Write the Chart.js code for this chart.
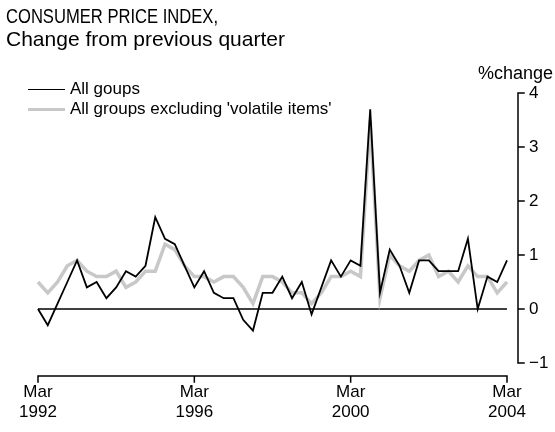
<!DOCTYPE html>
<html>
<head>
<meta charset="utf-8">
<script src="https://cdn.jsdelivr.net/npm/chart.js@4"></script>
<style>
  body { margin: 0; background: #fff; }
  #wrap { position: relative; width: 555px; height: 432px; font-family: 'Liberation Sans', Arial, sans-serif; color: #000; }
  #title { position: absolute; left: 6px; top: 4px; font-size: 21px; line-height: 23px; }
  /* condensed capitals for the first title line */
  #title .caps { display: inline-block; transform: scaleX(0.79); transform-origin: left center; white-space: nowrap; }
  #unit { position: absolute; right: 2px; top: 63px; font-size: 18px; }
  #legend { position: absolute; left: 28px; top: 79px; font-size: 17px; line-height: 20px; }
  #legend span.key { display: inline-block; width: 37px; margin-right: 5px; vertical-align: middle; }
</style>
</head>
<body>
<div id="wrap">
  <canvas id="myChart" width="555" height="432"></canvas>
  <div id="title"><span class="caps">CONSUMER PRICE INDEX,</span><br>Change from previous quarter</div>
  <div id="unit">%change</div>
  <div id="legend"></div>
</div>
<script>
  // quarterly, Mar 1992 - Mar 2004
  const years = [1992, 1993, 1994, 1995, 1996, 1997, 1998, 1999, 2000, 2001, 2002, 2003, 2004];
  const months = ['Mar', 'Jun', 'Sep', 'Dec'];
  const quarters = [];
  years.forEach(y => months.forEach(m => quarters.push(m + ' ' + y)));
  quarters.length = 49;

  const allGroups = [
    0.0, -0.3, 0.1, 0.5, 0.9, 0.4, 0.5, 0.2, 0.4, 0.7, 0.6, 0.8,
    1.7, 1.3, 1.2, 0.8, 0.4, 0.7, 0.3, 0.2, 0.2, -0.2, -0.4, 0.3,
    0.3, 0.6, 0.2, 0.5, -0.1, 0.4, 0.9, 0.6, 0.9, 0.8, 3.7, 0.3,
    1.1, 0.8, 0.3, 0.9, 0.9, 0.7, 0.7, 0.7, 1.3, 0.0, 0.6, 0.5,
    0.9
  ];
  const exVolatile = [
    0.5, 0.3, 0.5, 0.8, 0.9, 0.7, 0.6, 0.6, 0.7, 0.4, 0.5, 0.7,
    0.7, 1.2, 1.1, 0.8, 0.6, 0.6, 0.5, 0.6, 0.6, 0.4, 0.1, 0.6,
    0.6, 0.5, 0.3, 0.3, 0.1, 0.3, 0.6, 0.6, 0.7, 0.6, 3.5, 0.2,
    1.0, 0.8, 0.7, 0.9, 1.0, 0.6, 0.7, 0.5, 0.8, 0.6, 0.6, 0.3,
    0.5
  ];
  const yTicks = [-1, 0, 1, 2, 3, 4];

  const labelFont = { family: "'Liberation Sans', Arial, sans-serif", size: 17 };

  // axis lines drawn by hand: y axis sits off to the right, x axis hangs below the plot
  const axisLines = {
    id: 'axisLines',
    beforeDatasetsDraw(chart) {
      const { ctx, scales: { x, y } } = chart;
      ctx.save();
      ctx.strokeStyle = '#000';
      ctx.lineWidth = 1.5;
      ctx.beginPath();
      ctx.moveTo(x.getPixelForValue(0), y.getPixelForValue(0));
      ctx.lineTo(x.getPixelForValue(quarters.length - 1), y.getPixelForValue(0));
      ctx.stroke();
      ctx.restore();
    },
    afterDraw(chart) {
      const { ctx, chartArea, scales: { x, y } } = chart;
      ctx.save();
      ctx.strokeStyle = '#000';
      ctx.lineWidth = 1.5;
      ctx.lineCap = 'square';

      const ax = chartArea.right + 11;
      ctx.beginPath();
      ctx.moveTo(ax, y.getPixelForValue(4));
      ctx.lineTo(ax, y.getPixelForValue(-1));
      yTicks.forEach(v => {
        const py = y.getPixelForValue(v);
        ctx.moveTo(ax, py);
        ctx.lineTo(ax + 6, py);
      });
      ctx.stroke();

      const ay = y.getPixelForValue(-1) + 13;
      ctx.beginPath();
      ctx.moveTo(x.getPixelForValue(0), ay);
      ctx.lineTo(x.getPixelForValue(quarters.length - 1), ay);
      for (let i = 0; i < quarters.length; i += 16) {
        const px = x.getPixelForValue(i);
        ctx.moveTo(px, ay);
        ctx.lineTo(px, ay + 6);
      }
      ctx.stroke();
      ctx.restore();
    }
  };

  const ctx = document.getElementById('myChart');

  const chart = new Chart(ctx, {
    type: 'line',
    data: {
      labels: quarters,
      datasets: [
        {
          label: 'All goups',
          data: allGroups,
          borderColor: '#000',
          borderWidth: 1.8,
          pointRadius: 0,
          tension: 0,
          clip: false
        },
        {
          label: "All groups excluding 'volatile items'",
          data: exVolatile,
          borderColor: '#c8c8c8',
          borderWidth: 3.5,
          pointRadius: 0,
          tension: 0,
          clip: false
        }
      ]
    },
    options: {
      responsive: false,
      animation: false,
      devicePixelRatio: 1,
      layout: { padding: { left: 38, top: 93, right: 0, bottom: 0 } },
      plugins: {
        legend: { display: false },
        tooltip: { enabled: false }
      },
      scales: {
        x: {
          offset: false,
          grid: { display: false, drawTicks: false },
          border: { display: false },
          ticks: {
            autoSkip: false,
            maxRotation: 0,
            padding: 19,
            color: '#000',
            font: labelFont,
            callback: (v, i) => i % 16 === 0 ? quarters[i].split(' ') : ''
          },
          afterFit: s => { s.height = 69; }
        },
        y: {
          position: 'right',
          min: -1,
          max: 4,
          grid: { display: false, drawTicks: false },
          border: { display: false },
          ticks: {
            stepSize: 1,
            padding: 22,
            color: '#000',
            font: labelFont,
            callback: v => String(v).replace('-', '\u2212')
          },
          afterFit: s => { s.width = 48; }
        }
      }
    },
    plugins: [axisLines]
  });

  // legend built from the datasets
  const legend = document.getElementById('legend');
  chart.data.datasets.forEach(ds => {
    const row = document.createElement('div');
    const key = document.createElement('span');
    key.className = 'key';
    key.style.borderTop = ds.borderWidth + 'px solid ' + ds.borderColor;
    row.appendChild(key);
    row.appendChild(document.createTextNode(ds.label));
    legend.appendChild(row);
  });
</script>
</body>
</html>
